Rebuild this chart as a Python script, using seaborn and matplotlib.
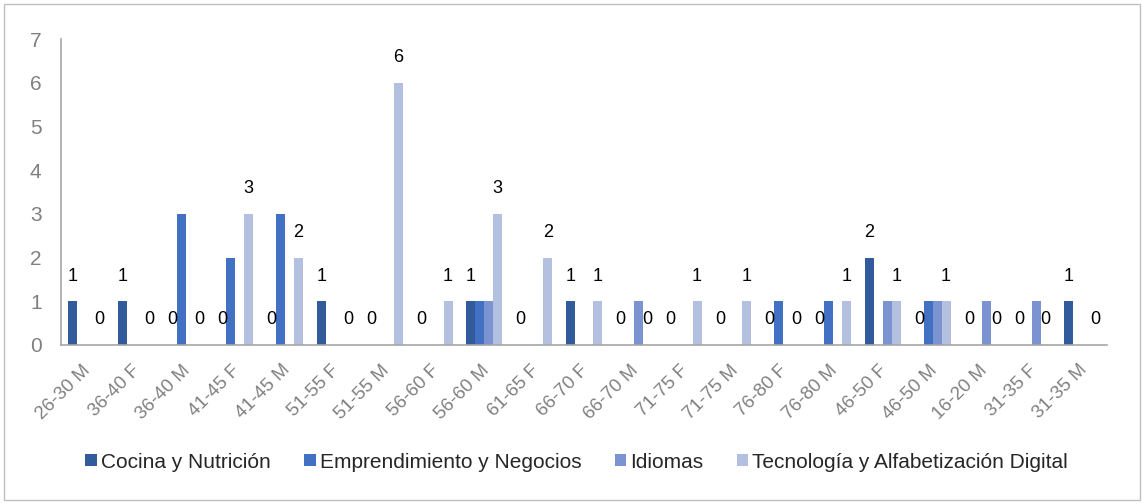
import numpy as np
import pandas as pd
import matplotlib
matplotlib.use("Agg")
import matplotlib.pyplot as plt
import matplotlib.transforms as mtransforms
from matplotlib.patches import Rectangle
import seaborn as sns

# Age range / sex groups
categorias = ["26-30 M", "36-40 F", "36-40 M", "41-45 F", "41-45 M", "51-55 F",
              "51-55 M", "56-60 F", "56-60 M", "61-65 F", "66-70 F", "66-70 M",
              "71-75 F", "71-75 M", "76-80 F", "76-80 M", "46-50 F", "46-50 M",
              "16-20 M", "31-35 F", "31-35 M"]

series = ["Cocina y Nutrición", "Emprendimiento y Negocios", "Idiomas",
          "Tecnología y Alfabetización Digital"]

cocina = [1, 1, 0, 0, 0, 1, 0, 0, 1, 0, 1, 0, 0, 0, 0, 0, 2, 0, 0, 0, 1]
emprendimiento = [0, 0, 3, 2, 3, 0, 0, 0, 1, 0, 0, 0, 0, 0, 1, 1, 0, 1, 0, 0, 0]
idiomas = [0, 0, 0, 0, 0, 0, 0, 0, 1, 0, 0, 1, 0, 0, 0, 0, 1, 1, 1, 1, 0]
tecnologia = [0, 0, 0, 3, 2, 0, 6, 1, 3, 2, 1, 0, 1, 1, 0, 1, 1, 1, 0, 0, 0]

# Series that carry value labels
series_con_etiqueta = ["Cocina y Nutrición", "Tecnología y Alfabetización Digital"]

colores = ["#325B9C", "#4270C2", "#7B94D1", "#B4C0E0"]

valores = {s: v for s, v in zip(series, [cocina, emprendimiento, idiomas, tecnologia])}
df = pd.DataFrame([
    {"grupo": c, "curso": s, "n": valores[s][i]}
    for s in series for i, c in enumerate(categorias)
])

sns.set_theme(style="white")
plt.rcParams["font.family"] = ["Liberation Sans", "DejaVu Sans"]

fig = plt.figure(figsize=(11.42, 5.04), dpi=100)
ax = fig.add_axes([61 / 1142, 1 - 345 / 504, (1107 - 61) / 1142, (345 - 39) / 504])

sns.barplot(data=df, x="grupo", y="n", hue="curso", order=categorias,
            hue_order=series, palette=colores, saturation=1, errorbar=None,
            width=0.72, linewidth=0, ax=ax, legend=True)

for cont, s in zip(ax.containers, series):
    if s in series_con_etiqueta:
        ax.bar_label(cont, labels=[str(v) for v in valores[s]], padding=12,
                     fontsize=13, color="black")

ax.set_ylim(0, 7)
ax.set_yticks(range(0, 8))
ax.set_xlim(-0.5, len(categorias) - 0.5)
ax.set_xlabel("")
ax.set_ylabel("")

for side in ["top", "right"]:
    ax.spines[side].set_visible(False)
for side in ["left", "bottom"]:
    ax.spines[side].set_color("#A6A6A6")
    ax.spines[side].set_linewidth(1.2)

ax.tick_params(axis="y", length=0, pad=14, labelsize=15, labelcolor="#808080")
ax.tick_params(axis="x", length=0, pad=12, labelsize=13.5, labelcolor="#808080")
desplazamiento = mtransforms.ScaledTranslation(-4 / 100, 0, fig.dpi_scale_trans)
for lbl in ax.get_xticklabels():
    lbl.set_rotation(45)
    lbl.set_ha("right")
    lbl.set_rotation_mode("anchor")
    lbl.set_transform(lbl.get_transform() + desplazamiento)

handles, labels = ax.get_legend_handles_labels()
ax.get_legend().remove()
fig.legend(handles, labels, loc="center", bbox_to_anchor=(0.505, 1 - 462 / 504),
           ncol=4, frameon=False, fontsize=15, handlelength=0.55,
           handleheight=0.55, handletextpad=0.2, columnspacing=1.6)

fig.patches.append(Rectangle((4 / 1142, 4 / 504), 1136 / 1142, 496 / 504,
                             transform=fig.transFigure, fill=False,
                             edgecolor="#BFBFBF", linewidth=1))

fig.savefig("out.png", dpi=100)
